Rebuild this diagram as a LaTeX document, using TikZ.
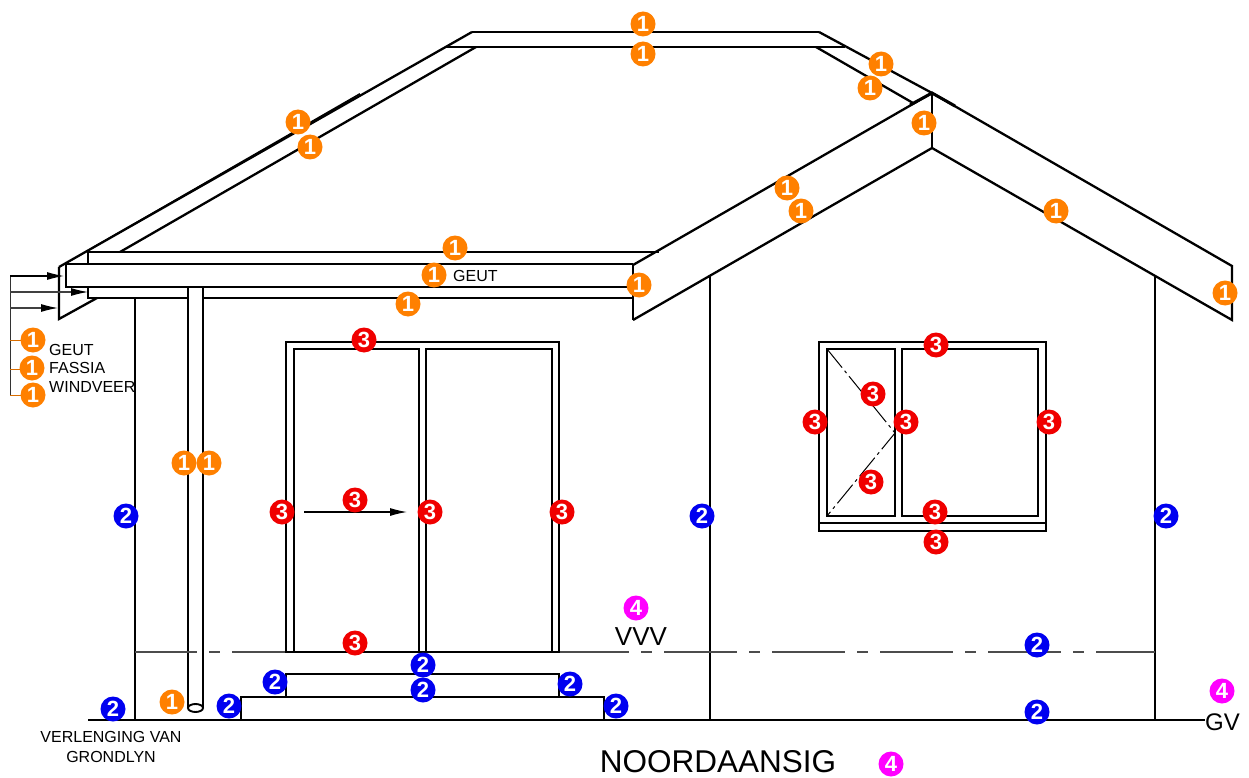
\documentclass[tikz,border=0pt]{standalone}
\usepackage{fontspec}
\setmainfont{Liberation Sans}
\usetikzlibrary{arrows.meta}
\definecolor{oranjekol}{HTML}{FF8000}
\definecolor{bloukol}{HTML}{0000F0}
\definecolor{rooikol}{HTML}{F00000}
\definecolor{pienkkol}{HTML}{FF00FF}
\tikzset{
    muur/.style={black, line width=2.3pt},
    raam/.style={black, line width=1.9pt},
    pyl/.style={-{Latex[length=17pt,width=8pt,black]}, line width=1.1pt},
    merker/.style={circle, inner sep=0pt, minimum size=25pt, text=white, font=\bfseries\fontsize{22}{22}\selectfont},
    etiket/.style={inner sep=0pt, anchor=west, font=\fontsize{16}{16}\selectfont}
}
\begin{document}
\begin{tikzpicture}[x=1pt, y=-1pt]
            \useasboundingbox (0,0) rectangle (1249,778);
            \draw[muur] (472,32) -- (819,32);
            \draw[muur] (446,47) -- (845,47);
            \draw[muur] (59,267) -- (472,32);
            \draw[muur, line width=1.6pt] (92,248.2) -- (360,93.8);
            \draw[muur] (120,252) -- (476,47);
            \draw[muur] (819,32) -- (932,93);
            \draw[muur] (816,47) -- (913,103);
            \draw[muur] (88,252) -- (659,252);
            \draw[muur] (66,264) -- (633,264);
            \draw[muur] (66,264) -- (66,287) -- (633,287);
            \draw[muur] (88,252) -- (88,264);
            \draw[muur] (88,287) -- (88,298) -- (188,298);
            \draw[muur] (203,298) -- (633,298);
            \draw[muur] (59,267) -- (59,319) -- (97,298);
            \draw[muur] (633,265) -- (633,320);
            \draw[muur] (633,265) -- (932,93) -- (1232,266) -- (1232,320) -- (932,148) -- (633,320);
            \draw[muur] (932,93) -- (932,148);
            \draw[muur, line width=3pt] (910,105) -- (932,93) -- (955,106);
            \draw[muur] (135,298) -- (135,720);
            \draw[muur] (710,276) -- (710,720);
            \draw[muur] (1155,276) -- (1155,720);
            \draw[muur, line width=2.6pt] (88,720) -- (1205,720);
            \draw[raam] (188,288) -- (188,708);
            \draw[raam] (203,288) -- (203,708);
            \draw[raam] (195.5,708) ellipse (7.5 and 4);
            \draw[black!70, line width=1.5pt, dash pattern=on 73pt off 12pt on 11pt off 12pt, dash phase=11pt] (135,652) -- (1155,652);
            \draw[raam] (286,652) -- (286,342) -- (559,342) -- (559,652) -- cycle;
            \draw[raam] (294,652) -- (294,349) -- (419,349) -- (419,652);
            \draw[raam] (426,652) -- (426,349) -- (552,349) -- (552,652);
            \draw[raam] (286,697) -- (286,674) -- (559,674) -- (559,697);
            \draw[raam] (241,720) -- (241,697) -- (604,697) -- (604,720);
            \draw[raam] (819,342) rectangle (1046,531);
            \draw[raam] (819,523) -- (1046,523);
            \draw[raam] (827,349) rectangle (895,516);
            \draw[raam] (902,349) rectangle (1038,516);
            \draw[black, line width=1pt, dash pattern=on 24pt off 4pt on 3pt off 4pt] (827,349) -- (895,433) -- (827,516);
            \coordinate (deurbegin) at (304,512);
            \coordinate (deureind) at (407,512);
            \draw[pyl] (deurbegin) -- (deureind);
            \coordinate (geutbegin) at (10,276);
            \coordinate (geuteind) at (64,276);
            \coordinate (fassiabegin) at (10,292);
            \coordinate (fassiaeind) at (88,292);
            \coordinate (veerbegin) at (10,308);
            \coordinate (veereind) at (58,308);
            \draw[black!80, line width=1pt] (geutbegin) -- (10,395);
            \draw[pyl, black] (geutbegin) -- (geuteind);
            \draw[pyl, black!75] (fassiabegin) -- (fassiaeind);
            \draw[pyl, black!75] (veerbegin) -- (veereind);
            \draw[oranjekol!85!black, line width=1pt] (10,340) -- (22,340);
            \draw[oranjekol!85!black, line width=1pt] (10,369) -- (22,369);
            \draw[oranjekol!85!black, line width=1pt] (10,395) -- (22,395);
            \node[etiket] (legendageut) at (49,350) {GEUT};
            \node[etiket] (legendafassia) at (49,368) {FASSIA};
            \node[etiket] (legendaveer) at (49,387) {WINDVEER};
            \node[etiket] (geut) at (453,276) {GEUT};
            \node[align=center, inner sep=0pt, font=\fontsize{16}{20}\selectfont] (grondlyn) at (111,747) {VERLENGING VAN\\GRONDLYN};
            \node[inner sep=0pt, font=\fontsize{26}{26}\selectfont] (vvv) at (641,637) {VVV};
            \node[inner sep=0pt, anchor=west, font=\fontsize{24}{24}\selectfont] (gv) at (1205,722) {GV};
            \node[inner sep=0pt, font=\fontsize{31.5}{32}\selectfont] (titel) at (718,762) {NOORDAANSIG};
            \foreach \px/\py [count=\n] in {643/24,643/54,881/64,870/88,924/123,298/122,310/147,787/188,801/211,1056/211,455/248,434/275,408/304,639/285,1225/293,184/463,209/463,172/702,33/340,32/368,33/395}
                \node[merker, fill=oranjekol] (oranje\n) at (\px,\py) {1};
            \foreach \px/\py [count=\n] in {126/516,702/516,1166/516,1037/645,1037/712,423/665,423/690,275/682,570/684,229/706,616/706,113/709}
                \node[merker, fill=bloukol] (blou\n) at (\px,\py) {2};
            \foreach \px/\py [count=\n] in {364/340,282/512,355/500,430/512,562/512,355/643,936/345,873/394,815/422,906/422,1049/422,871/482,935/512,936/542}
                \node[merker, fill=rooikol] (rooi\n) at (\px,\py) {3};
            \foreach \px/\py [count=\n] in {636/608,1222/691,891/764}
                \node[merker, fill=pienkkol] (pienk\n) at (\px,\py) {4};
        \end{tikzpicture}
\end{document}
